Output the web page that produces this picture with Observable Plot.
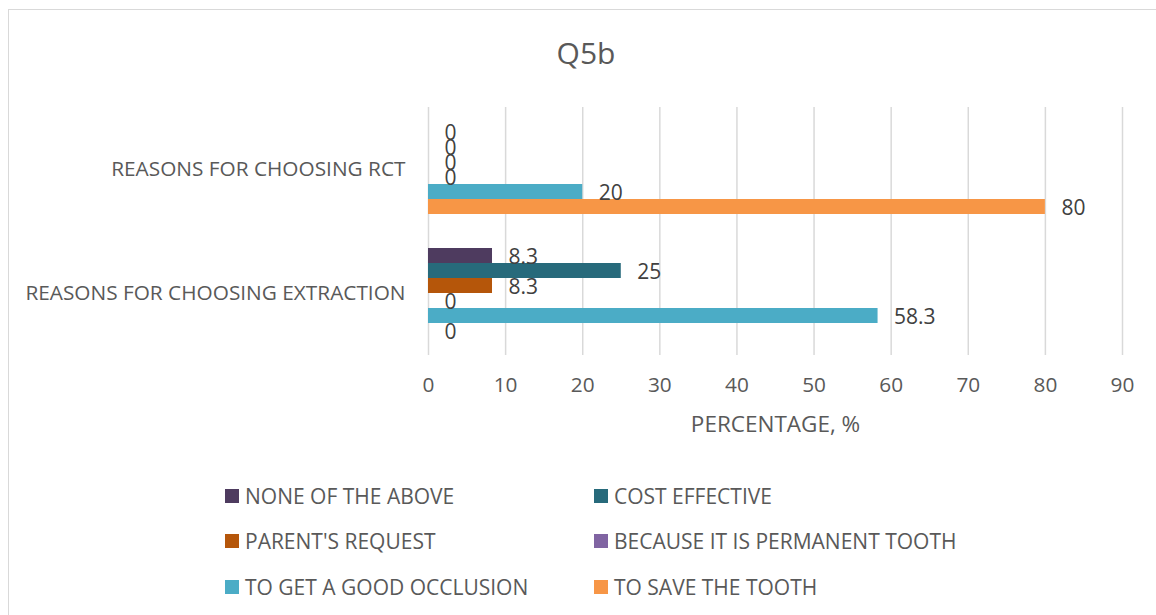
<!DOCTYPE html>
<html>
<head>
<meta charset="utf-8">
<script src="https://cdn.jsdelivr.net/npm/d3@7"></script>
<script src="https://cdn.jsdelivr.net/npm/@observablehq/plot@0.6"></script>
<style>
html, body { margin: 0; padding: 0; overflow: hidden; background: #fff; }
#wrap { position: relative; width: 1156px; height: 615px; font-family: "Open Sans", sans-serif; overflow: hidden; }
#frame { position: absolute; left: 8px; top: 9px; width: 1400px; height: 900px; border: 1px solid #d9d9d9; box-sizing: border-box; }
#title { position: absolute; left: 16px; width: 1140px; top: 33px; text-align: center; font-size: 30px; line-height: 40px; color: #595959; }
#chart { position: absolute; left: 0; top: 0; }
.item { position: absolute; display: flex; align-items: center; height: 24px; white-space: nowrap; font-size: 21px; line-height: 24px; color: #595959; }
.sw { width: 14px; height: 14px; margin-right: 6px; flex: none; }
</style>
</head>
<body>
<div id="wrap">
  <div id="frame"></div>
  <div id="title"></div>
  <div id="chart"></div>
  <div id="legend"></div>
</div>
<script>
const title = "Q5b";
const categories = ["REASONS FOR CHOOSING RCT", "REASONS FOR CHOOSING EXTRACTION"];
const series = ["NONE OF THE ABOVE", "COST EFFECTIVE", "PARENT'S REQUEST", "BECAUSE IT IS PERMANENT TOOTH", "TO GET A GOOD OCCLUSION", "TO SAVE THE TOOTH"];
const colors = ["#4e3b5f", "#276a7b", "#b5560a", "#8064a2", "#4bacc6", "#f79646"];
const rctValues = [0, 0, 0, 0, 20, 80];
const extractionValues = [8.3, 25, 8.3, 0, 58.3, 0];
const xTicks = [0, 10, 20, 30, 40, 50, 60, 70, 80, 90];
const xLabel = "PERCENTAGE, %";

const valuesByCategory = [rctValues, extractionValues];
const data = categories.flatMap((c, ci) => series.map((s, si) => ({category: c, series: s, value: valuesByCategory[ci][si]})));

document.getElementById("title").textContent = title;

const chart = Plot.plot({
  width: 1156,
  height: 460,
  marginTop: 107,
  marginBottom: 105,
  marginLeft: 428,
  marginRight: 34,
  style: {fontFamily: "'Open Sans', sans-serif", fontSize: "20.8px", color: "#595959", background: "transparent", overflow: "visible"},
  x: {domain: [0, 90], ticks: xTicks, tickSize: 0, tickPadding: 22, label: null},
  y: {domain: series, axis: null, paddingInner: 0, paddingOuter: 0.93},
  fy: {domain: categories, axis: "left", padding: 0, tickSize: 0, tickPadding: 23, label: null},
  color: {domain: series, range: colors},
  marks: [
    Plot.ruleX(xTicks, {stroke: "#d9d9d9", strokeWidth: 1.5}),
    Plot.barX(data, {x: "value", y: "series", fy: "category", fill: "series"}),
    Plot.text(data, {x: "value", y: "series", fy: "category", text: d => String(d.value), textAnchor: "start", dx: 16, dy: 1, fill: "#404040", fontSize: 21}),
    Plot.text([xLabel], {fy: d => categories[1], frameAnchor: "bottom", dy: 76, text: d => d, fontSize: 22.5, fill: "#595959"})
  ]
});
document.getElementById("chart").appendChild(chart);

const legend = document.getElementById("legend");
const colLeft = [225, 594];
const rowCenter = [496, 541, 587];
series.forEach((s, i) => {
  const item = document.createElement("div");
  item.className = "item";
  item.style.left = colLeft[i % 2] + "px";
  item.style.top = (rowCenter[Math.floor(i / 2)] - 12) + "px";
  const sw = document.createElement("span");
  sw.className = "sw";
  sw.style.background = colors[i];
  const t = document.createElement("span");
  t.textContent = s;
  item.appendChild(sw);
  item.appendChild(t);
  legend.appendChild(item);
});
</script>
</body>
</html>
